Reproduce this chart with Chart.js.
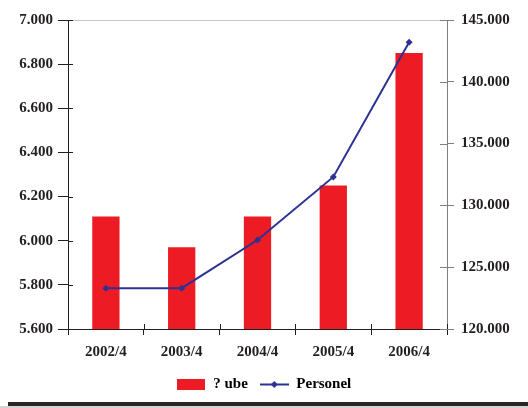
<!DOCTYPE html>
<html>
<head>
<meta charset="utf-8">
<script src="https://cdn.jsdelivr.net/npm/chart.js@4/dist/chart.umd.min.js"></script>
<style>
    body { margin: 0; background: #fff; }
    #wrap { position: relative; width: 528px; height: 402px; }
    #rule { margin-left: 8px; height: 4px; background: #2b2425; }
    #rule2 { height: 2px; background: #d4d2d2; }
</style>
</head>
<body>
<div id="wrap"><canvas id="chart"></canvas></div>
<div id="rule"></div>
<div id="rule2"></div>
<script>
// data dari grafik
const labels = ['2002/4', '2003/4', '2004/4', '2005/4', '2006/4'];
const cubeValues = [6.11, 5.97, 6.11, 6.25, 6.85];
const personelValues = [123300, 123300, 127200, 132300, 143200];
const leftTicks = [5.6, 5.8, 6.0, 6.2, 6.4, 6.6, 6.8, 7.0];
const leftTickLabels = ['5.600', '5.800', '6.000', '6.200', '6.400', '6.600', '6.800', '7.000'];
const rightTicks = [120000, 125000, 130000, 135000, 140000, 145000];
const rightTickLabels = ['120.000', '125.000', '130.000', '135.000', '140.000', '145.000'];
const legendNames = ['? ube', 'Personel'];

const RED = '#ed1c24';
const BLUE = '#2e3192';
const DARK = '#231f20';
const GREY = '#858080';

Chart.defaults.font.family = "'Liberation Serif', 'Times New Roman', serif";
Chart.defaults.font.weight = 'bold';
Chart.defaults.font.size = 15;
Chart.defaults.color = DARK;

// gambar kecil untuk legend
function makeBarSwatch() {
    const c = document.createElement('canvas');
    c.width = 28; c.height = 11;
    const g = c.getContext('2d');
    g.fillStyle = RED;
    g.fillRect(0, 0, 28, 11);
    return c;
}
function makeLineSwatch() {
    const c = document.createElement('canvas');
    c.width = 29; c.height = 9;
    const g = c.getContext('2d');
    g.strokeStyle = BLUE;
    g.lineWidth = 2;
    g.beginPath(); g.moveTo(0, 4.5); g.lineTo(29, 4.5); g.stroke();
    g.fillStyle = BLUE;
    g.beginPath(); g.moveTo(14.5, 1); g.lineTo(18, 4.5); g.lineTo(14.5, 8); g.lineTo(11, 4.5); g.closePath(); g.fill();
    return c;
}
const barSwatch = makeBarSwatch();
const lineSwatch = makeLineSwatch();

// tick kecil yang masuk ke area chart + garis atas
const innerTicks = {
    id: 'innerTicks',
    afterDraw(chart) {
        const ctx = chart.ctx;
        const area = chart.chartArea;
        const yl = chart.scales.y;
        const yr = chart.scales.y1;
        const x = chart.scales.x;
        ctx.save();
        ctx.lineWidth = 1;

        ctx.strokeStyle = '#c8c6c6';
        ctx.beginPath();
        ctx.moveTo(area.left, Math.round(area.top) + 0.5);
        ctx.lineTo(area.right, Math.round(area.top) + 0.5);
        ctx.stroke();

        ctx.strokeStyle = DARK;
        yl.ticks.forEach((t, i) => {
            const py = Math.round(yl.getPixelForTick(i)) + 0.5;
            ctx.beginPath(); ctx.moveTo(area.left, py); ctx.lineTo(area.left + 5, py); ctx.stroke();
        });
        const n = labels.length;
        for (let i = 0; i <= n; i++) {
            const px = Math.round(area.left + (area.right - area.left) * i / n) + 0.5;
            ctx.beginPath(); ctx.moveTo(px, area.bottom - 5); ctx.lineTo(px, area.bottom); ctx.stroke();
        }

        ctx.strokeStyle = GREY;
        yr.ticks.forEach((t, i) => {
            const py = Math.round(yr.getPixelForTick(i)) + 0.5;
            ctx.beginPath(); ctx.moveTo(area.right - 7, py); ctx.lineTo(area.right, py); ctx.stroke();
        });
        ctx.restore();
    }
};

const ctx = document.getElementById('chart');
new Chart(ctx, {
    type: 'bar',
    data: {
        labels: labels,
        datasets: [
            {
                type: 'line',
                label: legendNames[1],
                data: personelValues,
                yAxisID: 'y1',
                borderColor: BLUE,
                backgroundColor: BLUE,
                borderWidth: 2,
                pointStyle: 'rectRot',
                pointRadius: 3.5,
                pointBorderWidth: 0,
                tension: 0,
                order: 0
            },
            {
                type: 'bar',
                label: legendNames[0],
                data: cubeValues,
                yAxisID: 'y',
                backgroundColor: RED,
                barPercentage: 0.72,
                categoryPercentage: 0.5,
                order: 1
            }
        ]
    },
    options: {
        responsive: true,
        maintainAspectRatio: false,
        animation: false,
        layout: { padding: { top: 20, bottom: 0 } },
        plugins: {
            tooltip: { enabled: false },
            legend: {
                position: 'bottom',
                labels: {
                    usePointStyle: true,
                    pointStyleWidth: 29,
                    padding: 12,
                    color: DARK,
                    generateLabels: () => [
                        { text: legendNames[0], pointStyle: barSwatch, fillStyle: RED, strokeStyle: RED, lineWidth: 0, datasetIndex: 1 },
                        { text: legendNames[1], pointStyle: lineSwatch, fillStyle: BLUE, strokeStyle: BLUE, lineWidth: 0, datasetIndex: 0 }
                    ]
                }
            }
        },
        scales: {
            x: {
                offset: true,
                grid: { display: true, offset: true, drawOnChartArea: false, drawTicks: true, tickLength: 6, color: DARK },
                border: { display: true, color: DARK },
                ticks: { padding: 8, color: DARK },
                afterFit: (s) => { s.height = 36; }
            },
            y: {
                position: 'left',
                min: 5.6,
                max: 7.0,
                afterBuildTicks: (s) => { s.ticks = leftTicks.map(v => ({ value: v })); },
                ticks: { padding: 5, color: DARK, callback: (v, i) => leftTickLabels[i] },
                grid: { drawOnChartArea: false, drawTicks: true, tickLength: 10, color: DARK },
                border: { display: true, color: DARK },
                afterFit: (s) => { s.width = 68; }
            },
            y1: {
                position: 'right',
                min: 120000,
                max: 145000,
                afterBuildTicks: (s) => { s.ticks = rightTicks.map(v => ({ value: v })); },
                ticks: { padding: 7, color: DARK, callback: (v, i) => rightTickLabels[i] },
                grid: { drawOnChartArea: false, drawTicks: true, tickLength: 7, color: GREY },
                border: { display: true, color: GREY },
                afterFit: (s) => { s.width = 81; }
            }
        }
    },
    plugins: [innerTicks]
});
</script>
</body>
</html>
